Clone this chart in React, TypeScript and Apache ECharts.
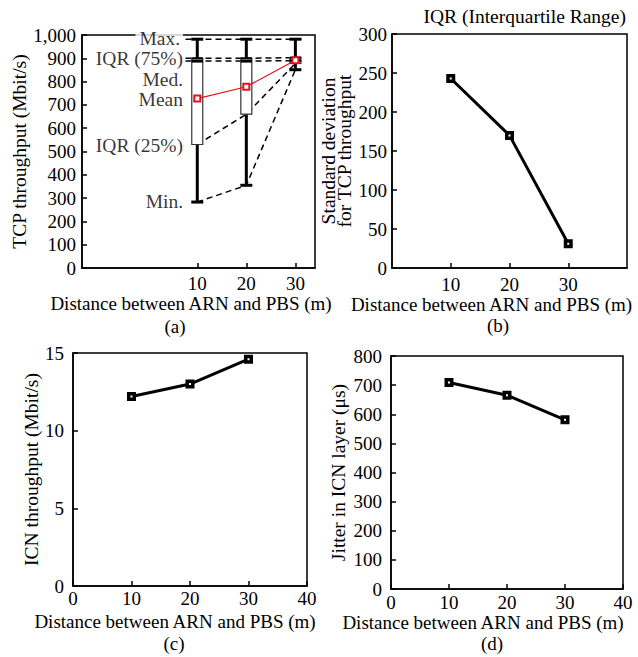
import React, { useEffect, useRef } from 'react';
import * as echarts from 'echarts';

// ---------- data ----------
const distances = [10, 20, 30];
// panel (a): TCP throughput box statistics (Mbit/s)
const tcpMin = [283, 355, 851];
const tcpQ1 = [530, 660, 878];
const tcpMedian = [888, 888, 890];
const tcpQ3 = [900, 900, 903];
const tcpMax = [982, 982, 982];
const tcpMean = [727, 778, 892];
// annotation labels of panel (a)
const annotLabels = ['Max.', 'IQR (75%)', 'Med.', 'Mean', 'IQR (25%)', 'Min.'];
const annotLevels = [987, 901, 807, 724, 524, 285];
// panel (b): standard deviation of TCP throughput
const stdDev = [243, 170, 31];
// panel (c): ICN throughput (Mbit/s)
const icnThroughput = [12.2, 13.0, 14.6];
// panel (d): jitter in ICN layer (µs)
const jitter = [709, 665, 581];

const FONT = '"Liberation Serif", "Times New Roman", serif';
const FS = 19;
const NAME_FS = 19.5;
const XNAME_FS = 19;

function mkX(gi: number, min: number, max: number, opts: any) {
  const ax: any = {
    type: 'value',
    gridIndex: gi,
    min,
    max,
    axisLine: { show: true, onZero: false, lineStyle: { color: '#000', width: 1.5 } },
    axisTick: { show: true, inside: true, length: 5, lineStyle: { color: '#000', width: 1.5 } },
    axisLabel: {
      show: true,
      color: '#000',
      fontFamily: FONT,
      fontSize: FS,
      margin: opts.labelMargin,
      showMinLabel: true,
      showMaxLabel: true,
    },
    splitLine: { show: false },
    name: 'Distance between ARN and PBS (m)',
    nameLocation: 'middle',
    nameGap: opts.nameGap,
    nameTextStyle: {
      color: '#000',
      fontFamily: FONT,
      fontSize: XNAME_FS,
      lineHeight: 19,
      padding: [0, opts.namePadRight, 0, 0],
    },
  };
  if (opts.interval) ax.interval = opts.interval;
  if (opts.customValues) {
    ax.axisLabel.customValues = opts.customValues;
    ax.axisTick.customValues = opts.customValues;
  }
  return ax;
}

function mkY(gi: number, min: number, max: number, interval: number, opts: any) {
  return {
    type: 'value',
    gridIndex: gi,
    min,
    max,
    interval,
    axisLine: { show: true, onZero: false, lineStyle: { color: '#000', width: 1.5 } },
    axisTick: { show: true, inside: true, length: 5, lineStyle: { color: '#000', width: 1.5 } },
    axisLabel: {
      color: '#000',
      fontFamily: FONT,
      fontSize: FS,
      margin: opts.labelMargin,
      showMinLabel: true,
      showMaxLabel: true,
      formatter: opts.formatter,
    },
    splitLine: { show: false },
    name: opts.name,
    nameLocation: 'middle',
    nameRotate: 90,
    nameGap: opts.nameGap,
    nameTextStyle: {
      color: '#000',
      fontFamily: FONT,
      fontSize: NAME_FS,
      lineHeight: opts.lineHeight || NAME_FS,
    },
  };
}

function mkLine(gi: number, values: number[]) {
  return {
    type: 'line',
    xAxisIndex: gi,
    yAxisIndex: gi,
    data: distances.map((d, i) => [d, values[i]]),
    symbol: 'rect',
    symbolSize: 5.5,
    lineStyle: { color: '#000', width: 3 },
    itemStyle: { color: '#fff', borderColor: '#000', borderWidth: 3.5 },
    z: 5,
  };
}

const gridBase = { show: true, borderColor: '#000', borderWidth: 1.5, backgroundColor: 'transparent', containLabel: false, outerBoundsMode: 'none' };

// label anchor (data x) for the annotations of panel (a), and the right end of the 30 m cap
const annotX = 7.3;
const dashStartX = 7.6;
const dashEndX = 31.3;

function dashed(levels: number[]) {
  return {
    type: 'line',
    xAxisIndex: 0,
    yAxisIndex: 0,
    data: [[dashStartX, levels[0]], ...distances.map((d, i) => [d, levels[i]]), [dashEndX, levels[2]]],
    symbol: 'none',
    lineStyle: { color: '#000', width: 1.5, type: [6, 4] },
    z: 2,
  };
}

function connector(levels: number[]) {
  return {
    type: 'line',
    xAxisIndex: 0,
    yAxisIndex: 0,
    data: distances.map((d, i) => [d, levels[i]]),
    symbol: 'none',
    lineStyle: { color: '#000', width: 1.5, type: [6, 4] },
    z: 2,
  };
}

export default function App() {
  const ref = useRef<HTMLDivElement>(null);
  useEffect(() => {
    if (!ref.current) return;
    const chart = echarts.init(ref.current, null, { renderer: 'svg' });
    const option: any = {
      animation: false,
      backgroundColor: '#fff',
      textStyle: { fontFamily: FONT },
      title: {
        text: 'IQR (Interquartile Range)',
        right: 12,
        top: 6,
        padding: 0,
        textStyle: { color: '#000', fontFamily: FONT, fontSize: NAME_FS, fontWeight: 'normal' },
      },
      grid: [
        { ...gridBase, left: 82, top: 35, width: 233, height: 233 },
        { ...gridBase, left: 392, top: 34, width: 235, height: 234 },
        { ...gridBase, left: 73, top: 353, width: 234, height: 233 },
        { ...gridBase, left: 391, top: 356, width: 232, height: 233 },
      ],
      xAxis: [
        mkX(0, -13.5, 34, { customValues: distances, labelMargin: 6, nameGap: 25, namePadRight: 15 }),
        mkX(1, 0, 40, { interval: 10, customValues: distances, labelMargin: 7, nameGap: 24, namePadRight: 36 }),
        mkX(2, 0, 40, { interval: 10, labelMargin: 3, nameGap: 26, namePadRight: 30 }),
        mkX(3, 0, 40, { interval: 10, labelMargin: 4, nameGap: 24, namePadRight: 48 }),
      ],
      yAxis: [
        mkY(0, 0, 1000, 100, {
          name: 'TCP throughput (Mbit/s)',
          nameGap: 50,
          labelMargin: 6,
          formatter: (v: number) => v.toLocaleString('en-US'),
        }),
        mkY(1, 0, 300, 50, {
          name: 'Standard deviation\nfor TCP throughput',
          nameGap: 39,
          labelMargin: 5,
          lineHeight: 16,
        }),
        mkY(2, 0, 15, 5, { name: 'ICN throughput (Mbit/s)', nameGap: 30, labelMargin: 9 }),
        mkY(3, 0, 800, 100, { name: 'Jitter in ICN layer (μs)', nameGap: 43, labelMargin: 9 }),
      ],
      series: [
        dashed(tcpMax),
        dashed(tcpQ3),
        dashed(tcpMedian),
        connector(tcpQ1),
        connector(tcpMin),
        {
          type: 'custom',
          xAxisIndex: 0,
          yAxisIndex: 0,
          data: distances.map((d, i) => [d, tcpMin[i], tcpQ1[i], tcpMedian[i], tcpQ3[i], tcpMax[i]]),
          encode: { x: 0, y: [1, 2, 3, 4, 5] },
          z: 3,
          renderItem: (params: any, api: any) => {
            const x = api.value(0);
            const pMin = api.coord([x, api.value(1)]);
            const pQ1 = api.coord([x, api.value(2)]);
            const pMed = api.coord([x, api.value(3)]);
            const pQ3 = api.coord([x, api.value(4)]);
            const pMax = api.coord([x, api.value(5)]);
            const cx = pMin[0];
            const hb = 5.5;
            const hc = 6;
            const thick = { stroke: '#000', lineWidth: 3 };
            return {
              type: 'group',
              children: [
                { type: 'line', shape: { x1: cx, y1: pMax[1], x2: cx, y2: pQ3[1] }, style: thick },
                { type: 'line', shape: { x1: cx, y1: pQ1[1], x2: cx, y2: pMin[1] }, style: thick },
                { type: 'line', shape: { x1: cx - hc, y1: pMax[1], x2: cx + hc, y2: pMax[1] }, style: thick },
                { type: 'line', shape: { x1: cx - hc, y1: pMin[1], x2: cx + hc, y2: pMin[1] }, style: thick },
                {
                  type: 'rect',
                  shape: { x: cx - hb, y: pQ3[1], width: hb * 2, height: pQ1[1] - pQ3[1] },
                  style: { fill: '#fff', stroke: '#333', lineWidth: 1.2 },
                },
                { type: 'line', shape: { x1: cx - hb, y1: pMed[1], x2: cx + hb, y2: pMed[1] }, style: thick },
                { type: 'line', shape: { x1: cx - hb, y1: pQ3[1], x2: cx + hb, y2: pQ3[1] }, style: { stroke: '#000', lineWidth: 2 } },
              ],
            };
          },
        },
        {
          type: 'line',
          xAxisIndex: 0,
          yAxisIndex: 0,
          data: distances.map((d, i) => [d, tcpMean[i]]),
          symbol: 'emptyRect',
          symbolSize: 6,
          lineStyle: { color: '#e8101e', width: 1.2 },
          itemStyle: { color: '#e8101e', borderWidth: 1.2 },
          z: 6,
        },
        {
          type: 'scatter',
          xAxisIndex: 0,
          yAxisIndex: 0,
          symbolSize: 0,
          silent: true,
          z: 7,
          data: annotLabels.map((t, i) => ({
            value: [annotX, annotLevels[i], t],
            label: i === 0 ? { backgroundColor: '#fff', padding: [0, 3, 0, 4] } : {},
          })),
          label: {
            show: true,
            position: 'left',
            distance: 1,
            color: '#000',
            fontFamily: FONT,
            fontSize: NAME_FS,
            formatter: (p: any) => p.value[2],
          },
        },
        mkLine(1, stdDev),
        mkLine(2, icnThroughput),
        mkLine(3, jitter),
      ],
      graphic: [
        ['(a)', 175, 326],
        ['(b)', 498, 325],
        ['(c)', 174, 643],
        ['(d)', 492, 643],
      ].map(([t, x, y]) => ({
        type: 'text',
        x,
        y,
        style: {
          text: t,
          font: `${XNAME_FS}px ${FONT}`,
          fill: '#000',
          align: 'center',
          verticalAlign: 'middle',
          textAlign: 'center',
          textVerticalAlign: 'middle',
        },
      })),
    };
    chart.setOption(option);
    return () => chart.dispose();
  }, []);
  return (
    <div
      ref={ref}
      style={{ position: 'fixed', left: 0, top: 0, width: 638, height: 657, background: '#fff' }}
    />
  );
}
